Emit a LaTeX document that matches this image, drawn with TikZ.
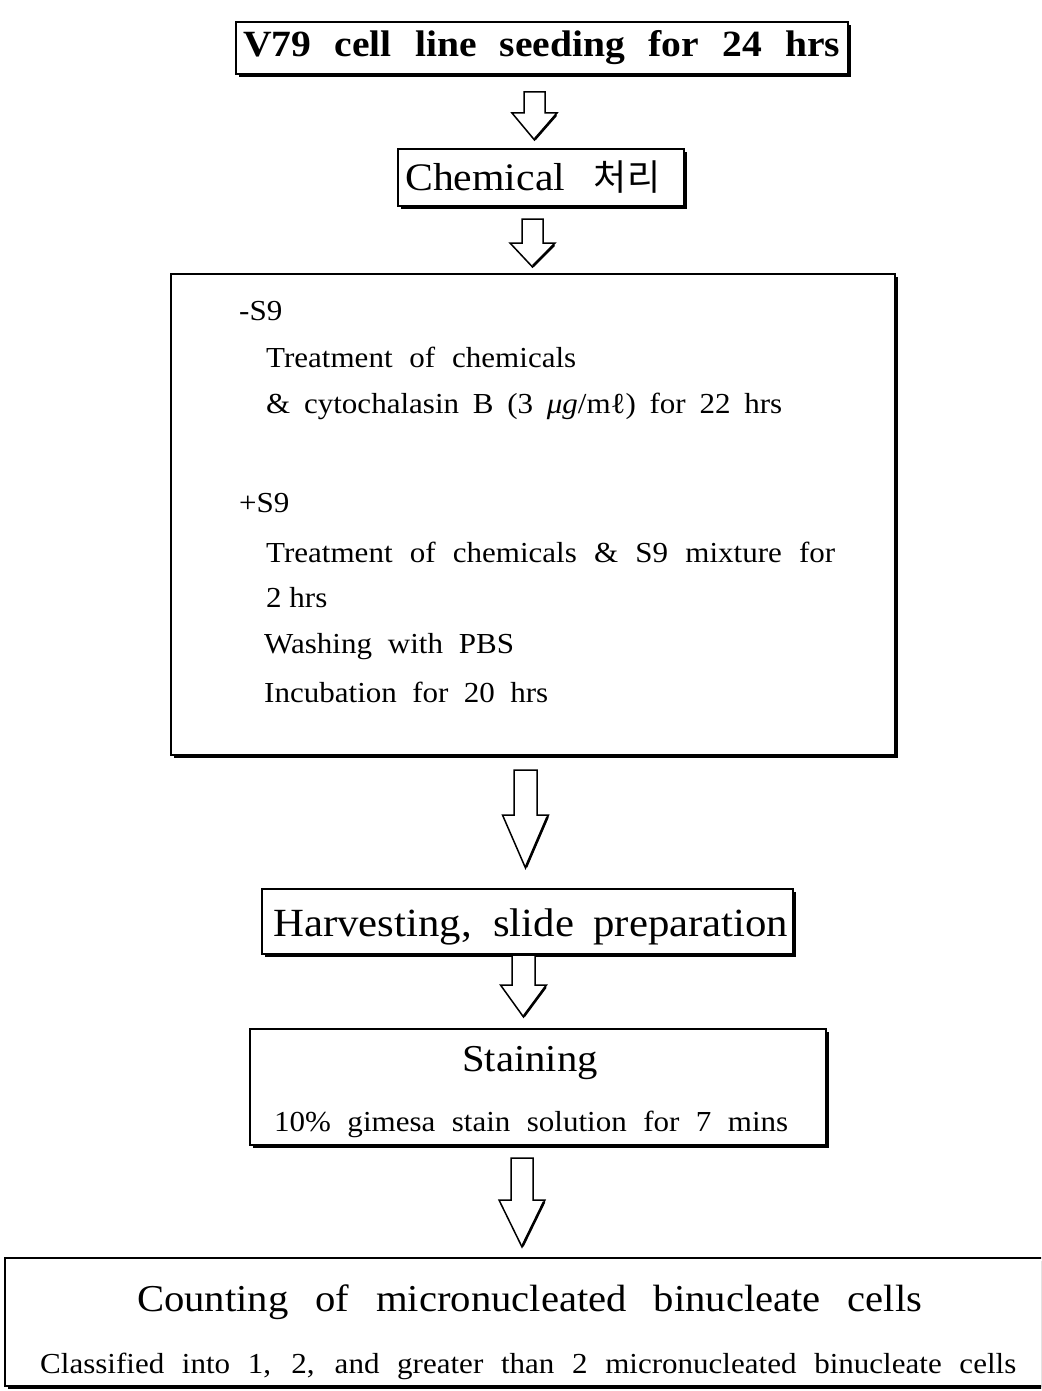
\documentclass[tikz,border=0pt]{standalone}
\usepackage{fontspec}
\setmainfont{Liberation Serif}[FakeStretch=1.07]
\newfontfamily\krfont{Noto Sans CJK KR}
\usetikzlibrary{shadows}
\tikzset{
  box/.style={draw=black, line width=1.5pt, fill=white, inner sep=0pt,
    drop shadow={shadow xshift=3pt, shadow yshift=-3pt, fill=black, opacity=1}},
  txt/.style={inner sep=0pt, anchor=base west},
  ctxt/.style={inner sep=0pt, anchor=base},
  barrow/.style={draw=black, line width=1.5pt, fill=white, line join=miter},
  bedge/.style={draw=black, line width=2.6pt},
}
\newcommand\fsz[1]{\fontsize{#1}{#1}\selectfont}
% centre x, top, head start, tip, shaft half width, head half width
\newcommand\blockarrow[6]{%
  \draw[barrow] ({#1-#5},#2) -- ({#1+#5},#2) -- ({#1+#5},#3) -- ({#1+#6},#3)
    -- (#1,#4) -- ({#1-#6},#3) -- ({#1-#5},#3) -- cycle;
  \draw[bedge] ({#1+#6-1},{#3+2}) -- ({#1+0.5},{#4-1});
}
\begin{document}
\begin{tikzpicture}[x=1pt,y=-1pt]
\useasboundingbox[fill=white] (0,0) rectangle (1041,1391);
\clip (0,0) rectangle (1041,1391);

% boxes
\node[box, minimum width=612pt, minimum height=52pt] (b1) at (542,48) {};
\node[box, minimum width=286pt, minimum height=57pt] (b2) at (541,177.5) {};
\node[box, minimum width=724pt, minimum height=481pt] (b3) at (533,514.5) {};
\node[box, minimum width=531pt, minimum height=65pt] (b4) at (527.5,921.5) {};
\node[box, minimum width=576pt, minimum height=116pt] (b5) at (538,1087) {};
\node[box, minimum width=1045pt, minimum height=128pt] (b6) at (527.5,1322) {};

% arrows
\blockarrow{534.5}{92}{113}{140}{10.5}{22.5}
\blockarrow{532.5}{219}{243}{267}{10.5}{22.5}
\blockarrow{525.5}{770}{815}{868}{11.5}{23}
\blockarrow{523.5}{955}{985}{1017}{11.5}{23}
\blockarrow{522}{1158}{1200}{1247}{11}{23}

% texts
\node[txt] (t1) at (243,57) {\fsz{37}\bfseries\makebox[597pt][s]{V79 cell line seeding for 24 hrs}};
\node[txt] (t2) at (405,190) {\fsz{39}\makebox[255pt][s]{Chemical {\krfont\fsz{36}처리}}};

\node[txt] (s1) at (239,320) {\fsz{29}-S9};
\node[txt] (s2) at (266,367) {\fsz{29}\makebox[310pt][s]{Treatment of chemicals}};
\node[txt] (s3) at (266,413) {\fsz{29}\makebox[516pt][s]{\& cytochalasin B (3 \textit{μg}/mℓ) for 22 hrs}};
\node[txt] (s4) at (239,512) {\fsz{29}+S9};
\node[txt] (s5) at (266,562) {\fsz{29}\makebox[569pt][s]{Treatment of chemicals \& S9 mixture for}};
\node[txt] (s6) at (266,607) {\fsz{29}2 hrs};
\node[txt] (s7) at (264,653) {\fsz{29}\makebox[250pt][s]{Washing with PBS}};
\node[txt] (s8) at (264,702) {\fsz{29}\makebox[284pt][s]{Incubation for 20 hrs}};

\node[txt] (t4) at (273,936) {\fsz{40}\makebox[515pt][s]{Harvesting, slide preparation}};
\node[ctxt] (t5) at (530,1071) {\fsz{38}Staining};
\node[txt] (t6) at (274,1131) {\fsz{29}\makebox[514pt][s]{10\% gimesa stain solution for 7 mins}};
\node[txt] (t7) at (137,1311) {\fsz{38}\makebox[785pt][s]{Counting of micronucleated binucleate cells}};
\node[txt] (t8) at (40,1373) {\fsz{29}\makebox[976pt][s]{Classified into 1, 2, and greater than 2 micronucleated binucleate cells}};
\end{tikzpicture}
\end{document}
